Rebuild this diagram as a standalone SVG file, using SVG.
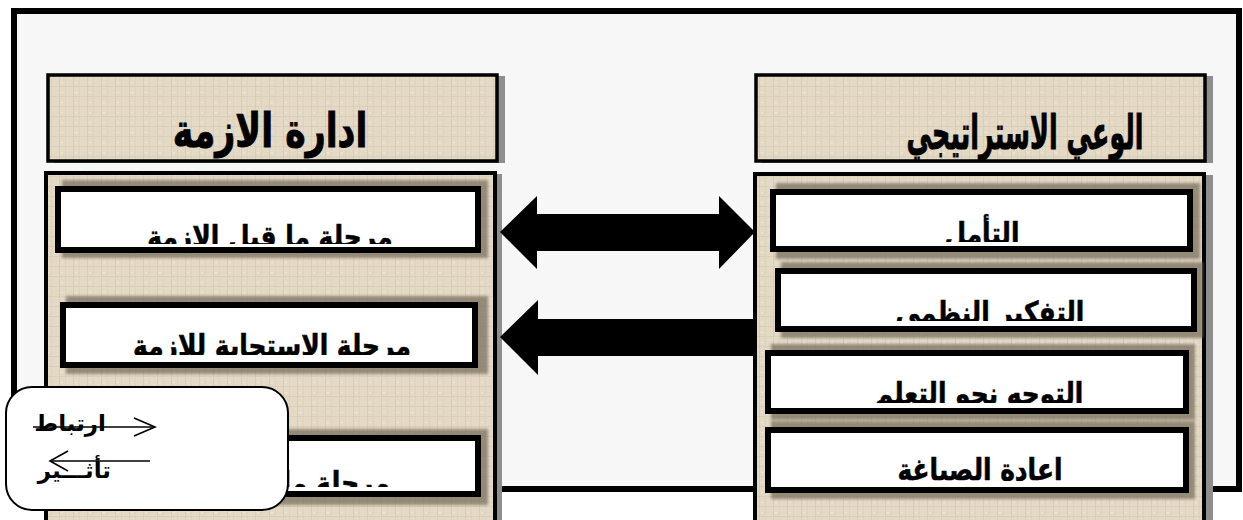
<svg xmlns="http://www.w3.org/2000/svg" width="1243" height="520" viewBox="0 0 1243 520">
  <defs>
    <style>
      .frame { fill: #f7f7f7; stroke: #000; stroke-width: 6; }
      .canvas { fill: url(#linen); stroke: #000; }
      .hdr { stroke-width: 3.5; }
      .col { stroke-width: 4; }
      .drop { fill: #8e8e8e; }
      .halo { fill: #7a705f; opacity: 0.75; filter: url(#soft); }
      .card { fill: #fff; stroke: #000; stroke-width: 6; }
      .title { font-family: "DejaVu Sans", sans-serif; font-weight: bold; font-size: 47px; fill: #000; stroke: #000; stroke-width: 1; text-anchor: middle; direction: rtl; }
      .lbl { font-family: "DejaVu Sans", sans-serif; font-weight: bold; font-size: 30px; fill: #000; stroke: #000; stroke-width: 0.6; text-anchor: middle; direction: rtl; }
      .key { font-family: "DejaVu Sans", sans-serif; font-weight: bold; font-size: 23px; fill: #000; direction: rtl; text-anchor: start; }
      .arrow { fill: #000; }
      .thin { fill: none; stroke: #000; stroke-width: 1.6; }
    </style>
    <!-- woven beige canvas texture -->
    <pattern id="linen" patternUnits="userSpaceOnUse" width="14" height="10">
      <rect width="14" height="10" fill="#e3d9c5"/>
      <rect x="3" y="0" width="1" height="10" fill="#d2c5ac" opacity="0.6"/>
      <rect x="9" y="0" width="1" height="10" fill="#d9cdb6" opacity="0.5"/>
      <rect x="0" y="6" width="14" height="1" fill="#d3c6ad" opacity="0.5"/>
      <rect x="5" y="2" width="2" height="1" fill="#efe8da"/>
    </pattern>
    <filter id="soft" x="-5%" y="-20%" width="110%" height="140%">
      <feGaussianBlur stdDeviation="1.5"/>
    </filter>
    <clipPath id="cL1"><rect x="55" y="186" width="426" height="58"/></clipPath>
    <clipPath id="cL2"><rect x="60" y="302" width="418" height="53"/></clipPath>
    <clipPath id="cL3"><rect x="60" y="435" width="421" height="52"/></clipPath>
    <clipPath id="cR1"><rect x="770" y="189" width="423" height="53"/></clipPath>
    <clipPath id="cR2"><rect x="775" y="268" width="422" height="53"/></clipPath>
    <clipPath id="cR3"><rect x="765" y="350" width="424" height="53"/></clipPath>
    <clipPath id="cR4"><rect x="765" y="427" width="424" height="54"/></clipPath>
  </defs>

  <!-- outer frame -->
  <rect class="frame" x="14" y="11" width="1225" height="478"/>

  <!-- left column: crisis management -->
  <g id="crisis-header">
    <rect class="drop" x="54" y="76" width="451" height="87"/>
    <rect class="canvas hdr" x="48" y="75" width="449" height="86"/>
    <text class="title" transform="translate(270,147) scale(0.74,1)">ادارة الازمة</text>
  </g>

  <g id="crisis-panel">
    <rect class="drop" x="52" y="174" width="450" height="360"/>
    <rect class="canvas col" x="46" y="173" width="449" height="360"/>
  </g>

  <g id="pre-crisis">
    <rect class="halo" x="62" y="180" width="426" height="78"/>
    <rect class="card" x="58" y="189" width="420" height="61"/>
    <g clip-path="url(#cL1)">
      <text class="lbl" transform="translate(270,247) scale(0.83,1)">مرحلة ما قبل الازمة</text>
    </g>
  </g>

  <g id="crisis-response">
    <rect class="halo" x="66" y="296" width="422" height="78"/>
    <rect class="card" x="63" y="305" width="412" height="60"/>
    <g clip-path="url(#cL2)">
      <text class="lbl" transform="translate(272,356) scale(0.83,1)">مرحلة الاستجابة للازمة</text>
    </g>
  </g>

  <g id="post-crisis">
    <rect class="halo" x="66" y="429" width="422" height="76"/>
    <rect class="card" x="63" y="438" width="415" height="56"/>
    <g clip-path="url(#cL3)">
      <text class="lbl" style="text-anchor:start" transform="translate(390,493) scale(0.83,1)">مرحلة ما</text>
    </g>
  </g>

  <!-- right column: strategic awareness -->
  <g id="awareness-header">
    <rect class="drop" x="762" y="76" width="451" height="87"/>
    <rect class="canvas hdr" x="756" y="75" width="449" height="86"/>
    <text class="title" transform="translate(1025,149) scale(0.54,1)">الوعي الاستراتيجي</text>
  </g>

  <g id="awareness-panel">
    <rect class="drop" x="761" y="175" width="452" height="360"/>
    <rect class="canvas col" x="755" y="174" width="449" height="360"/>
  </g>

  <g id="reflection">
    <rect class="halo" x="776" y="183" width="424" height="76"/>
    <rect class="card" x="773" y="192" width="417" height="57"/>
    <g clip-path="url(#cR1)">
      <text class="lbl" transform="translate(982,244) scale(0.83,1)">التأمل</text>
    </g>
  </g>

  <g id="systems-thinking">
    <rect class="halo" x="781" y="262" width="422" height="76"/>
    <rect class="card" x="778" y="271" width="416" height="58"/>
    <g clip-path="url(#cR2)">
      <text class="lbl" transform="translate(990,323) scale(0.83,1)">التفكير النظمي</text>
    </g>
  </g>

  <g id="learning-orientation">
    <rect class="halo" x="771" y="344" width="424" height="76"/>
    <rect class="card" x="768" y="353" width="418" height="58"/>
    <g clip-path="url(#cR3)">
      <text class="lbl" transform="translate(979,404) scale(0.83,1)">التوجه نحو التعلم</text>
    </g>
  </g>

  <g id="reframing">
    <rect class="halo" x="771" y="421" width="424" height="78"/>
    <rect class="card" x="768" y="430" width="418" height="60"/>
    <g clip-path="url(#cR4)">
      <text class="lbl" transform="translate(980,480) scale(0.83,1)">اعادة الصياغة</text>
    </g>
  </g>

  <!-- block arrows between the columns -->
  <g id="connectors">
    <polygon class="arrow" points="500,232 537,196 537,214 719,214 719,196 755,232 719,269 719,251 537,251 537,269"/>
    <polygon class="arrow" points="500,337 538,300 538,319 753,319 753,356 538,356 538,375"/>
  </g>

  <!-- key -->
  <g id="legend">
    <rect x="6" y="387" width="282" height="123" rx="26" ry="26" fill="#fff" stroke="#000" stroke-width="2"/>
    <text class="key" x="106" y="431">ارتباط</text>
    <line class="thin" x1="33" y1="427" x2="155" y2="427"/>
    <polyline class="thin" points="134,418 155,427 134,436"/>
    <line class="thin" x1="50" y1="461" x2="150" y2="461"/>
    <polyline class="thin" points="68,451 50,461 68,471"/>
    <text class="key" x="111" y="478">تأثـــير</text>
  </g>
</svg>
